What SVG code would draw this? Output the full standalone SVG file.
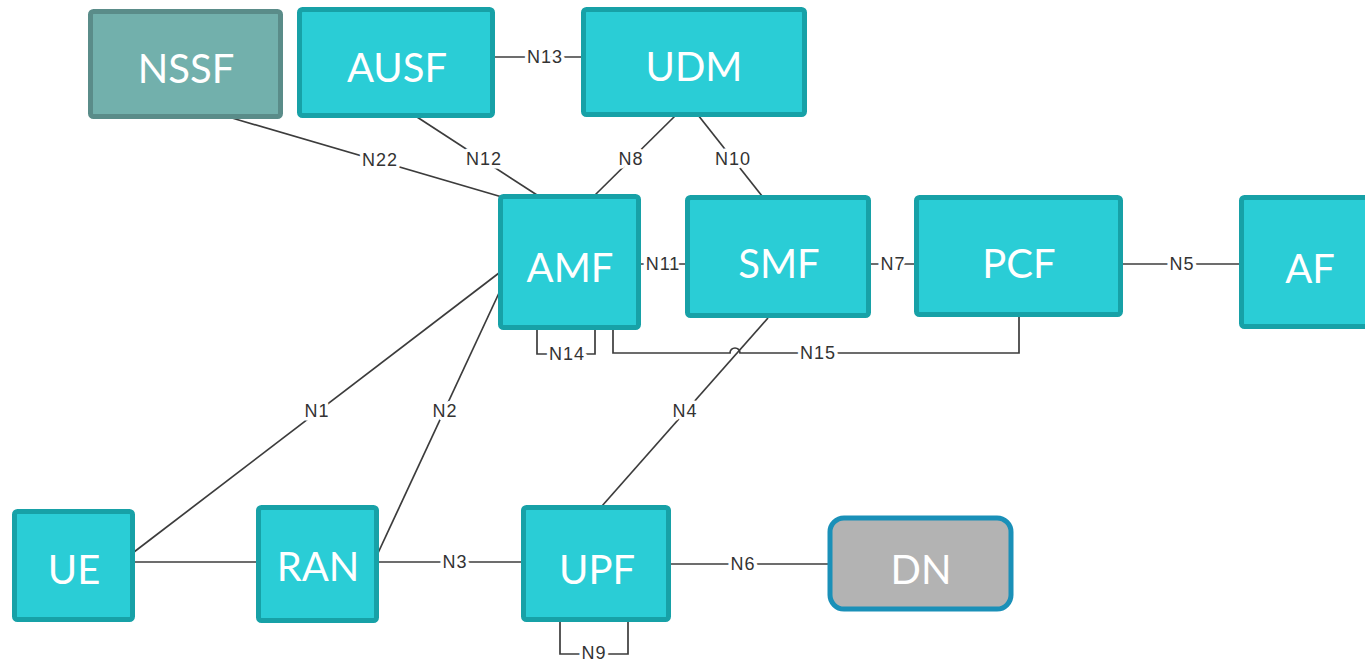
<svg xmlns="http://www.w3.org/2000/svg" width="1365" height="662" viewBox="0 0 1365 662">
  <style>
    .nf { fill: #2acdd6; stroke: #17a1a7; stroke-width: 5; }
    .nssf { fill: #72b0ac; stroke: #5a8c89; stroke-width: 5; }
    .dn { fill: #b3b3b3; stroke: #1a90b8; stroke-width: 5; }
    .nt { font-family: Lato, "Open Sans", sans-serif; font-size: 40px; fill: #ffffff; text-anchor: middle; }
    .ln { fill: none; stroke: #3c3c3c; stroke-width: 1.7; }
    .lb { font-family: "Liberation Sans", Arial, sans-serif; font-size: 18px; fill: #333333; text-anchor: middle; dominant-baseline: central; letter-spacing: 1px; stroke: #ffffff; stroke-width: 7; paint-order: stroke; stroke-linejoin: round; }
  </style>
  <rect width="1365" height="662" fill="#ffffff"/>

  <!-- interfaces -->
  <g id="connectors">
    <line class="ln" x1="493" y1="57" x2="582" y2="57"/>
    <text class="lb" x="545" y="57">N13</text>

    <line class="ln" x1="232" y1="118" x2="502" y2="197"/>
    <text class="lb" x="380" y="160">N22</text>

    <line class="ln" x1="417" y1="117" x2="537" y2="195"/>
    <text class="lb" x="484" y="159">N12</text>

    <line class="ln" x1="676" y1="115" x2="594" y2="196"/>
    <text class="lb" x="631" y="159">N8</text>

    <line class="ln" x1="698" y1="115" x2="762" y2="196"/>
    <text class="lb" x="733" y="159">N10</text>

    <line class="ln" x1="640" y1="264" x2="686" y2="264"/>
    <text class="lb" x="663" y="264">N11</text>

    <line class="ln" x1="870" y1="264" x2="915" y2="264"/>
    <text class="lb" x="893" y="264">N7</text>

    <line class="ln" x1="1122" y1="264" x2="1240" y2="264"/>
    <text class="lb" x="1182" y="264">N5</text>

    <polyline class="ln" points="537,329 537,354 595,354 595,329"/>
    <text class="lb" x="567" y="354">N14</text>

    <line class="ln" x1="768" y1="318" x2="602" y2="506"/>
    <text class="lb" x="685" y="411">N4</text>

    <path class="ln" d="M613,329 V353 H730 A5,5 0 0 1 740,353 H1019 V316"/>
    <text class="lb" x="818" y="353">N15</text>

    <line class="ln" x1="134" y1="552" x2="499" y2="273"/>
    <text class="lb" x="317" y="411">N1</text>

    <line class="ln" x1="378" y1="553" x2="499" y2="293"/>
    <text class="lb" x="445" y="411">N2</text>

    <line class="ln" x1="134" y1="562" x2="257" y2="562"/>

    <line class="ln" x1="378" y1="562" x2="522" y2="562"/>
    <text class="lb" x="455" y="562">N3</text>

    <line class="ln" x1="670" y1="564" x2="828" y2="564"/>
    <text class="lb" x="743" y="564">N6</text>

    <polyline class="ln" points="560,621 560,654 628,654 628,621"/>
    <text class="lb" x="594" y="653">N9</text>
  </g>

  <g id="NSSF">
    <rect class="nssf" x="90.5" y="11.5" width="190" height="105" rx="3"/>
    <text class="nt" x="186" y="83">NSSF</text>
  </g>
  <g id="AUSF">
    <rect class="nf" x="299.5" y="9.5" width="193" height="106" rx="3"/>
    <text class="nt" x="397" y="82">AUSF</text>
  </g>
  <g id="UDM">
    <rect class="nf" x="583.5" y="9.5" width="221" height="105" rx="3"/>
    <text class="nt" x="694" y="81">UDM</text>
  </g>
  <g id="AMF">
    <rect class="nf" x="500.5" y="196.5" width="138" height="131" rx="3"/>
    <text class="nt" x="570" y="282">AMF</text>
  </g>
  <g id="SMF">
    <rect class="nf" x="687.5" y="197.5" width="181" height="118" rx="3"/>
    <text class="nt" x="779" y="278">SMF</text>
  </g>
  <g id="PCF">
    <rect class="nf" x="916.5" y="197.5" width="204" height="117" rx="3"/>
    <text class="nt" x="1019" y="278">PCF</text>
  </g>
  <g id="AF">
    <rect class="nf" x="1241.5" y="197.5" width="130" height="129" rx="3"/>
    <text class="nt" x="1310" y="283">AF</text>
  </g>
  <g id="UE">
    <rect class="nf" x="14.5" y="511.5" width="118" height="108" rx="3"/>
    <text class="nt" x="74" y="584">UE</text>
  </g>
  <g id="RAN">
    <rect class="nf" x="258.5" y="507.5" width="118" height="113" rx="3"/>
    <text class="nt" x="318" y="581">RAN</text>
  </g>
  <g id="UPF">
    <rect class="nf" x="523.5" y="507.5" width="145" height="112" rx="3"/>
    <text class="nt" x="597" y="584">UPF</text>
  </g>
  <g id="DN">
    <rect class="dn" x="830" y="518" width="181" height="91" rx="14"/>
    <text class="nt" x="921" y="584">DN</text>
  </g>
</svg>
